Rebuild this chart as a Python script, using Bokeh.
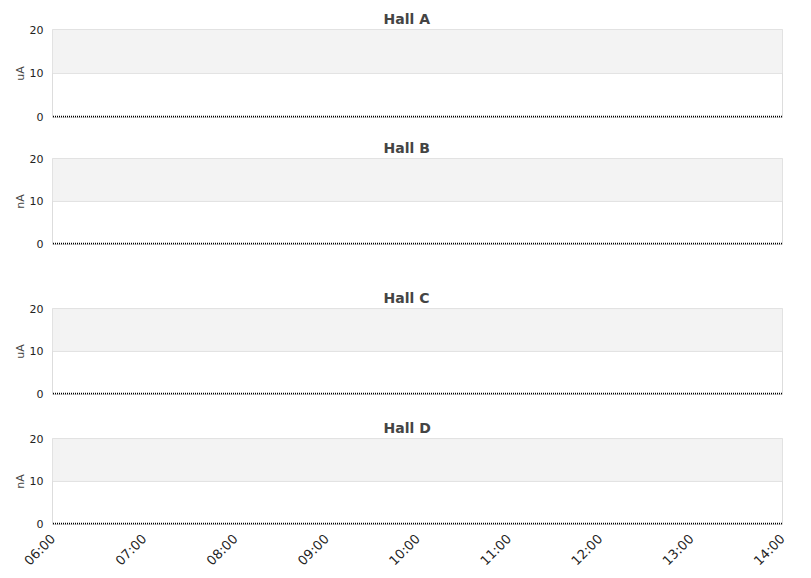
import datetime as dt
from math import pi
from bokeh.plotting import figure
from bokeh.layouts import column
from bokeh.models import BoxAnnotation, FixedTicker, DatetimeTickFormatter, Range1d, ColumnDataSource
from bokeh.embed import file_html
from bokeh.resources import INLINE

# ---- data ----
halls = ["Hall A", "Hall B", "Hall C", "Hall D"]
units = ["uA", "nA", "uA", "nA"]
tick_hours = [6, 7, 8, 9, 10, 11, 12, 13, 14]
sample_hours = [6, 7, 8, 9, 10, 11, 12, 13, 14]
current_a = [0, 0, 0, 0, 0, 0, 0, 0, 0]
current_b = [0, 0, 0, 0, 0, 0, 0, 0, 0]
current_c = [0, 0, 0, 0, 0, 0, 0, 0, 0]
current_d = [0, 0, 0, 0, 0, 0, 0, 0, 0]
y_ticks = [0, 10, 20]
band_low, band_high = 10, 20

day = dt.datetime(2024, 1, 1)
def t(h):
    return day + dt.timedelta(hours=h)
def ms(h):
    return (t(h) - dt.datetime(1970, 1, 1)).total_seconds() * 1000.0

series = [current_a, current_b, current_c, current_d]
tops = [29, 21, 21, 21]
bottoms = [18, 41, 21, 54]
frame_h = 88

figs = []
for i, (name, unit, vals) in enumerate(zip(halls, units, series)):
    p = figure(width=800, height=tops[i] + frame_h + bottoms[i], x_axis_type="datetime",
               output_backend="svg", toolbar_location=None,
               min_border_left=52, min_border_right=18,
               min_border_top=tops[i], min_border_bottom=bottoms[i],
               x_range=Range1d(t(tick_hours[0]) - dt.timedelta(seconds=20), t(tick_hours[-1])),
               y_range=Range1d(-0.2, 20))
    p.title.text = name
    p.title.align = "left"
    p.title.offset = 331
    p.title.text_font = "DejaVu Sans"
    p.title.text_font_size = "14px"
    p.title.text_font_style = "bold"
    p.title.text_color = "#444444"
    p.title.standoff = 5
    p.outline_line_color = "#dddddd"
    p.background_fill_color = "white"
    p.border_fill_color = "white"

    p.add_layout(BoxAnnotation(bottom=band_low, top=band_high, fill_color="#f3f3f3",
                               fill_alpha=1, line_color=None, level="underlay"))

    p.xgrid.visible = False
    p.ygrid.ticker = FixedTicker(ticks=[band_low])
    p.ygrid.grid_line_color = "#e3e3e3"

    ya = p.yaxis[0]
    ya.ticker = FixedTicker(ticks=y_ticks)
    ya.axis_line_color = None
    ya.major_tick_line_color = None
    ya.minor_tick_line_color = None
    ya.major_tick_out = 0
    ya.major_tick_in = 0
    ya.major_label_standoff = 9
    ya.major_label_text_font = "DejaVu Sans"
    ya.major_label_text_font_size = "11px"
    ya.major_label_text_color = "#222222"
    ya.axis_label = unit
    ya.axis_label_text_font = "DejaVu Sans"
    ya.axis_label_text_font_size = "11px"
    ya.axis_label_text_font_style = "normal"
    ya.axis_label_text_color = "#444444"
    ya.axis_label_standoff = 0

    xa = p.xaxis[0]
    if i < 3:
        xa.visible = False
    else:
        xa.ticker = FixedTicker(ticks=[ms(h) for h in tick_hours])
        xa.formatter = DatetimeTickFormatter(hours="%H:%M", days="%H:%M", minutes="%H:%M")
        xa.major_label_orientation = pi / 4
        xa.axis_line_color = None
        xa.major_tick_line_color = None
        xa.minor_tick_line_color = None
        xa.major_tick_out = 0
        xa.major_tick_in = 0
        xa.major_label_standoff = 12
        xa.major_label_text_font = "DejaVu Sans"
        xa.major_label_text_font_size = "13px"
        xa.major_label_text_color = "#222222"

    src = ColumnDataSource(dict(x=[t(h) for h in sample_hours], y=vals))
    p.line("x", "y", source=src, line_color="black", line_width=2, line_dash="1 1")
    figs.append(p)

layout = column(*figs, spacing=0)
open("out.html", "w").write(file_html(layout, INLINE))
